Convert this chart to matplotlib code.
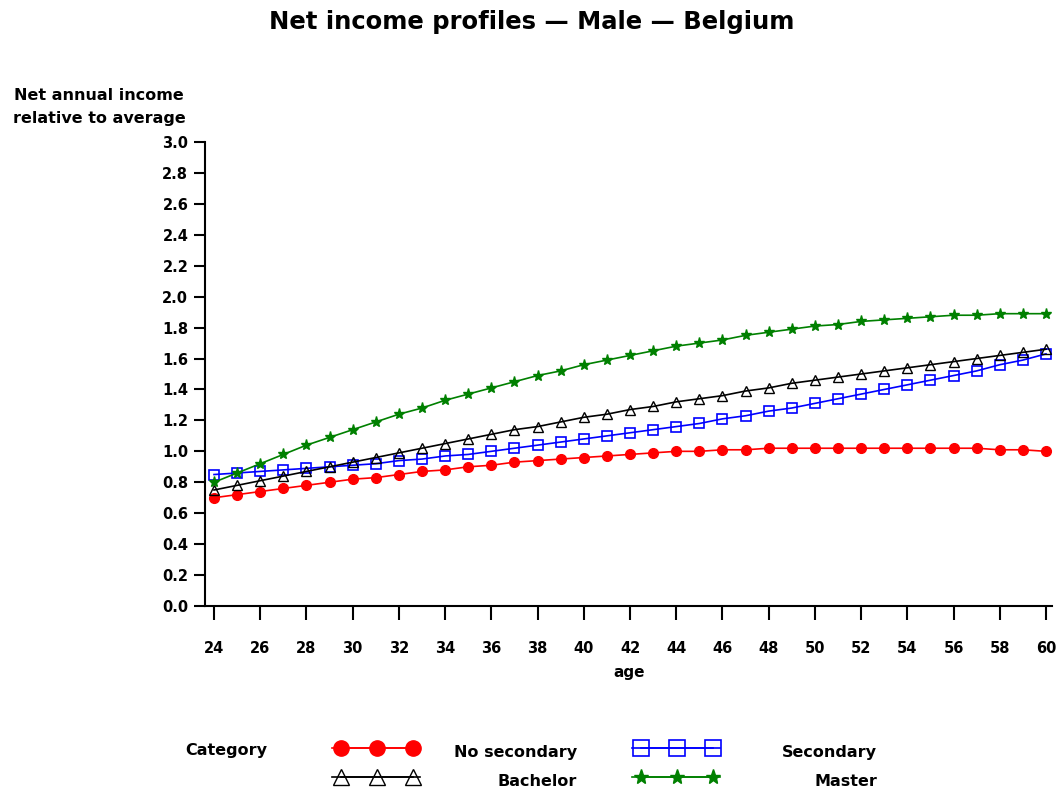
import matplotlib
matplotlib.use("Agg")
import matplotlib.pyplot as plt
from matplotlib.lines import Line2D

# 数据
ages = list(range(24, 61))
no_secondary = [0.70, 0.72, 0.74, 0.76, 0.78, 0.80, 0.82, 0.83, 0.85, 0.87, 0.88, 0.90, 0.91,
                0.93, 0.94, 0.95, 0.96, 0.97, 0.98, 0.99, 1.00, 1.00, 1.01, 1.01, 1.02, 1.02,
                1.02, 1.02, 1.02, 1.02, 1.02, 1.02, 1.02, 1.02, 1.01, 1.01, 1.00]
secondary = [0.85, 0.86, 0.87, 0.88, 0.89, 0.90, 0.91, 0.92, 0.94, 0.95, 0.97, 0.98, 1.00,
             1.02, 1.04, 1.06, 1.08, 1.10, 1.12, 1.14, 1.16, 1.18, 1.21, 1.23, 1.26, 1.28,
             1.31, 1.34, 1.37, 1.40, 1.43, 1.46, 1.49, 1.52, 1.56, 1.59, 1.63]
bachelor = [0.75, 0.78, 0.81, 0.84, 0.87, 0.90, 0.93, 0.96, 0.99, 1.02, 1.05, 1.08, 1.11,
            1.14, 1.16, 1.19, 1.22, 1.24, 1.27, 1.29, 1.32, 1.34, 1.36, 1.39, 1.41, 1.44,
            1.46, 1.48, 1.50, 1.52, 1.54, 1.56, 1.58, 1.60, 1.62, 1.64, 1.66]
master = [0.80, 0.86, 0.92, 0.98, 1.04, 1.09, 1.14, 1.19, 1.24, 1.28, 1.33, 1.37, 1.41,
          1.45, 1.49, 1.52, 1.56, 1.59, 1.62, 1.65, 1.68, 1.70, 1.72, 1.75, 1.77, 1.79,
          1.81, 1.82, 1.84, 1.85, 1.86, 1.87, 1.88, 1.88, 1.89, 1.89, 1.89]
x_ticks = list(range(24, 61, 2))
y_ticks = [i / 10 for i in range(0, 31, 2)]

plt.rcParams['font.family'] = ['DejaVu Sans']
plt.rcParams['font.weight'] = 'bold'

W, H = 1062, 792
fig = plt.figure(figsize=(W / 100, H / 100), dpi=100)

def px(x0, y0, x1, y1):
    # 像素坐标 -> 图坐标
    return [x0 / W, 1 - y1 / H, (x1 - x0) / W, (y1 - y0) / H]

ax = fig.add_axes(px(205, 142, 1052, 606))

styles = [
    (no_secondary, "red", dict(marker="o", mfc="red", mec="red", ms=7)),
    (secondary, "blue", dict(marker="s", mfc="none", mec="blue", ms=7, mew=1.2)),
    (bachelor, "black", dict(marker="^", mfc="none", mec="black", ms=7, mew=1.0)),
    (master, "green", dict(marker="*", mfc="green", mec="green", ms=8)),
]
for vals, c, kw in styles:
    ax.plot(ages, vals, color=c, lw=1.2, **kw)

ax.set_xlim(23.61, 60.26)
ax.set_ylim(0, 3.0)
ax.set_xticks(x_ticks)
ax.set_yticks(y_ticks)
ax.set_yticklabels([f"{v:.1f}" for v in y_ticks])
ax.spines['top'].set_visible(False)
ax.spines['right'].set_visible(False)
ax.spines['left'].set_linewidth(1.5)
ax.spines['bottom'].set_linewidth(1.5)
ax.tick_params(axis='both', direction='out', width=1.5, labelsize=10.5)
ax.tick_params(axis='x', length=10, pad=15)
ax.tick_params(axis='y', length=8, pad=4)

fig.text(532 / W, 1 - 22 / H, "Net income profiles \u2014 Male \u2014 Belgium",
         ha='center', va='center', fontsize=17.5, fontweight='bold')
fig.text(99 / W, 1 - 95 / H, "Net annual income", ha='center', va='center', fontsize=11.5)
fig.text(99 / W, 1 - 119 / H, "relative to average", ha='center', va='center', fontsize=11.5)
fig.text(629 / W, 1 - 673 / H, "age", ha='center', va='center', fontsize=11)

# 图例
lax = fig.add_axes([0, 0, 1, 1], facecolor='none')
lax.set_xlim(0, W)
lax.set_ylim(H, 0)
lax.axis('off')
lax.text(185, 751, "Category", ha='left', va='center', fontsize=11.5)
legend_items = [
    (332, 748, "red", dict(marker="o", mfc="red", mec="red", ms=11), 577, "No secondary"),
    (632, 748, "blue", dict(marker="s", mfc="none", mec="blue", ms=11, mew=1.2), 877, "Secondary"),
    (332, 777, "black", dict(marker="^", mfc="none", mec="black", ms=11, mew=1.0), 577, "Bachelor"),
    (632, 777, "green", dict(marker="*", mfc="green", mec="green", ms=11), 877, "Master"),
]
for x0, y0, c, kw, tx, label in legend_items:
    lax.add_line(Line2D([x0 + 9, x0 + 45, x0 + 81], [y0, y0, y0], color=c, lw=1.2, **kw))
    lax.add_line(Line2D([x0, x0 + 88], [y0, y0], color=c, lw=1.2))
    lax.text(tx, y0 + 4, label, ha='right', va='center', fontsize=11.5)

fig.savefig("out.png", dpi=100)
